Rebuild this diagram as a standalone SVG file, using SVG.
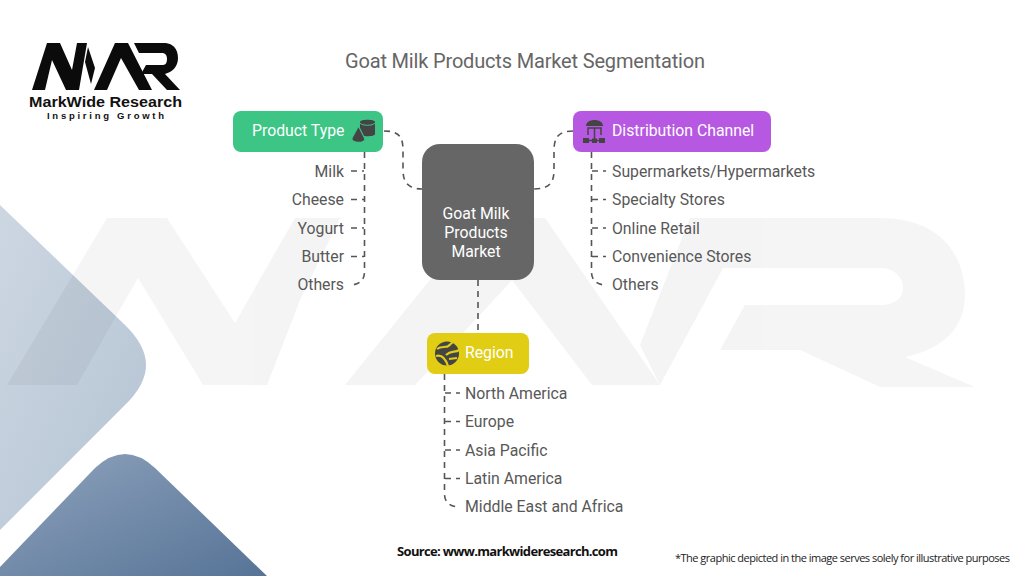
<svg xmlns="http://www.w3.org/2000/svg" width="1024" height="576" viewBox="0 0 1024 576">
<style>
text{font-family:Roboto,"Liberation Sans",sans-serif}
.t{font-size:15.800px;fill:#585858}
.e{text-anchor:end}
.n{font-size:15.800px;fill:#fff}
.c{text-anchor:middle}
.d{fill:none;stroke:#555;stroke-width:1.6;stroke-dasharray:6 5}
.i{fill:#444}
.mark{fill:#0b0b0b}
.wm{fill:#000;opacity:.038}
.lg{font-family:"Liberation Sans",sans-serif;font-weight:700;fill:#111;text-anchor:middle}
</style>
<defs>
<linearGradient id="g1" x1="0" y1="0" x2="1" y2="1"><stop offset="0" stop-color="#cdd7e2"/><stop offset="1" stop-color="#b4c3d3"/></linearGradient>
<linearGradient id="g2" x1="0" y1="0" x2="1" y2="1"><stop offset="0" stop-color="#8fa3bd"/><stop offset="1" stop-color="#567396"/></linearGradient>
</defs>
<rect width="1024" height="576" fill="#fff"/>
<g id="background">
<path d="M0,205 L124,324 Q146,345 146,365 Q146,385 124,406 L0,530 Z" fill="url(#g1)"/>
<path d="M0,567 L95,468 Q125,440 155,468 L267,576 L0,576 Z" fill="url(#g2)"/>
<g class="wm">
<path d="M7,385 L107,218 L167,218 L235,323 L295,218 L340,218 L300,300 L267,385 L203,385 L138,278 L77,385 Z"/>
<path d="M345,385 L480,218 L545,218 L660,385 L592,385 L512,280 L415,385 Z"/>
<path d="M660,385 L640,345 L690,218 L750,218 Z"/>
<path d="M700,218 L880,218 C945,218 965,260 965,295 C965,330 940,350 905,357 L975,387 L880,387 L800,350 L720,350 L745,305 L880,305 C895,305 903,298 903,288 C903,278 895,268 880,268 L720,268 Z"/>
</g>
</g>
<g id="logo">
<path class="mark" d="M32,90 L47,43 L60,43 L72,70 L77,43 L87,43 L79,90 L66,90 L52,60 L45,90 Z"/>
<path class="mark" d="M88,47 L85,62 L91,84 L95,68 Z"/>
<path class="mark" d="M94,90 L115,43 L128,43 L152,90 L139,90 L121,58 L107,90 Z"/>
<path class="mark" d="M134,43 L163,43 C175,43 178,51 178,58 C178,67 172,72 165,74 L180,90 L167,90 L152,74 L141,74 L146,65 L163,65 C166,65 167,62 167,59 C167,55 165,53 162,53 L139,53 Z"/>
<text class="lg" x="105.500" y="106.500" font-size="14" textLength="153" lengthAdjust="spacingAndGlyphs">MarkWide Research</text>
<text class="lg" x="105.500" y="118.500" font-size="9.500" textLength="117">Inspiring Growth</text>
</g>
<text x="525" y="68" class="c" font-size="20" fill="#666" textLength="360">Goat Milk Products Market Segmentation</text>
<g id="connectors">
<path class="d" d="M384,131 C402,131 403,140 403,152 L403,170 C403,182 408,189 422,189"/>
<path class="d" d="M573,131 C556,131 554,140 554,152 L554,170 C554,182 550,189 534,189"/>
<path class="d" d="M478,280 L478,333"/>
<path class="d" d="M364.500,152 L364.500,272 C364.500,281 358,285 350,285"/>
<path class="d" d="M351,171 L364,171 M351,199.500 L364,199.500 M351,228 L364,228 M351,256.500 L364,256.500"/>
<path class="d" d="M591.500,152 L591.500,272 C591.500,281 598,285 606,285"/>
<path class="d" d="M592,171 L606,171 M592,199.500 L606,199.500 M592,228 L606,228 M592,256.500 L606,256.500"/>
<path class="d" d="M444.500,374 L444.500,494 C444.500,503 451,507 460,507"/>
<path class="d" d="M445,393 L460,393 M445,421.500 L460,421.500 M445,450 L460,450 M445,478.500 L460,478.500"/>
</g>
<g id="product-type">
<rect x="233" y="111" width="150" height="41" rx="8" fill="#3cc584"/>
<text x="252" y="136" class="n">Product Type</text>
<path class="i" d="M360,122 C360,119 375,119 375,122 L375,134 C375,137 360,137 360,134 Z"/>
<path d="M360,123 C362,126 373,126 375,123" fill="none" stroke="#3cc584" stroke-width="1"/>
<path class="i" d="M358.500,126 L352,138 C350,143 364,144 365,139 Z" stroke="#3cc584" stroke-width="1.200"/>
</g>
<g id="distribution-channel">
<rect x="573" y="111" width="198" height="41" rx="8" fill="#b758e3"/>
<text x="612" y="136" class="n">Distribution Channel</text>
<path class="i" d="M586,126 C586,118 603,118 603,126 Z"/>
<path d="M588,135 L588,128 L601,128 L601,135 M594.500,128 L594.500,140 M588,140.500 L601,140.500" fill="none" stroke="#444" stroke-width="1.500"/>
<rect class="i" x="583" y="138" width="6" height="5"/>
<rect class="i" x="592" y="138.500" width="5" height="4.500"/>
<rect class="i" x="599" y="138" width="6" height="5"/>
</g>
<g id="center">
<rect x="422" y="144" width="112" height="136" rx="18" fill="#666"/>
<text x="476" y="219" class="n c">Goat Milk</text>
<text x="476" y="238" class="n c">Products</text>
<text x="476" y="257" class="n c">Market</text>
</g>
<g id="region">
<rect x="427" y="333" width="102" height="41" rx="8" fill="#e0cd14"/>
<text x="465" y="358" class="n">Region</text>
<circle class="i" cx="447" cy="353.500" r="12"/>
<path d="M437,349 C442,345 446,349 450,345 M436,356 C443,354 446,360 448,366 M446,355 C451,350 455,353 459,350 M449,359 L457,358 M453,342 L447,347" stroke="#e0cd14" stroke-width="2.200" fill="none"/>
</g>
<g id="items-product">
<text x="344" y="177" class="t e">Milk</text>
<text x="344" y="205" class="t e">Cheese</text>
<text x="344" y="234" class="t e">Yogurt</text>
<text x="344" y="262" class="t e">Butter</text>
<text x="344" y="290" class="t e">Others</text>
</g>
<g id="items-distribution">
<text x="612" y="177" class="t">Supermarkets/Hypermarkets</text>
<text x="612" y="205" class="t">Specialty Stores</text>
<text x="612" y="234" class="t">Online Retail</text>
<text x="612" y="262" class="t">Convenience Stores</text>
<text x="612" y="290" class="t">Others</text>
</g>
<g id="items-region">
<text x="465" y="399" class="t">North America</text>
<text x="465" y="427" class="t">Europe</text>
<text x="465" y="456" class="t">Asia Pacific</text>
<text x="465" y="484" class="t">Latin America</text>
<text x="465" y="512" class="t">Middle East and Africa</text>
</g>
<text x="397" y="555.500" font-size="13" font-weight="700" fill="#111" textLength="221" style="font-family:'Open Sans',sans-serif">Source: www.markwideresearch.com</text>
<text x="675" y="562" font-size="11" fill="#222" textLength="335" style="font-family:'Open Sans',sans-serif">*The graphic depicted in the image serves solely for illustrative purposes</text>
</svg>
